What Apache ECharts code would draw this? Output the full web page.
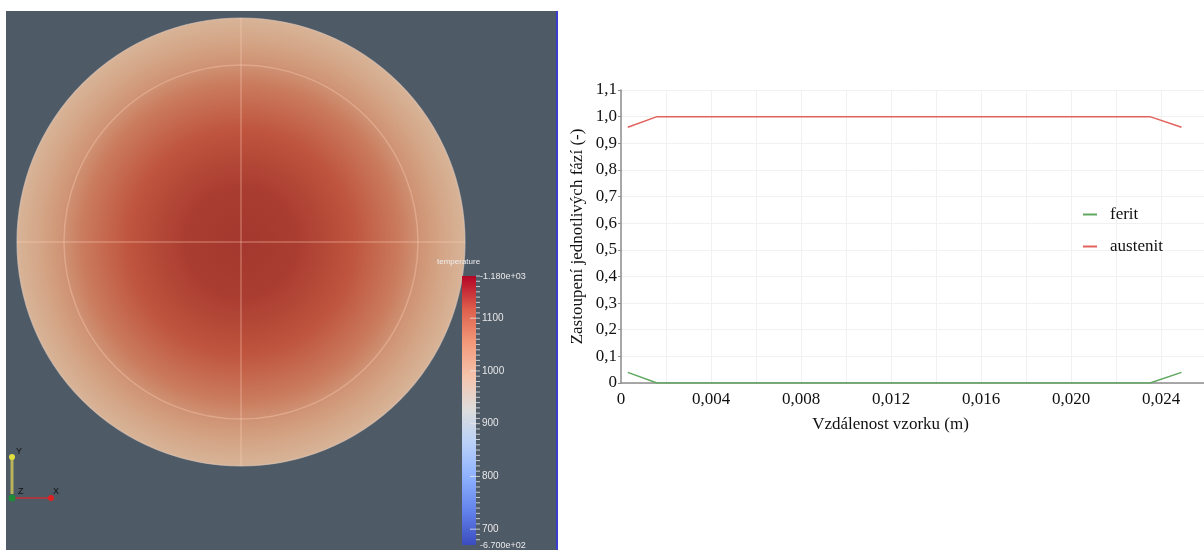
<!DOCTYPE html>
<html>
<head>
<meta charset="utf-8">
<script src="https://cdn.jsdelivr.net/npm/echarts@6/dist/echarts.min.js"></script>
<style>html,body{margin:0;padding:0;background:#fff}#c{width:1204px;height:550px}</style>
</head>
<body>
<div id="c"></div>
<script>
// ---- data ----
const distance = [0.0003, 0.0016, 0.0235, 0.0249];
const austenit = [0.96, 1.0, 1.0, 0.96];
const ferit = [0.04, 0.0, 0.0, 0.04];
const seriesNames = ['ferit', 'austenit'];
const yTicks = [0, 0.1, 0.2, 0.3, 0.4, 0.5, 0.6, 0.7, 0.8, 0.9, 1.0, 1.1];
const xLabelTicks = [0, 0.004, 0.008, 0.012, 0.016, 0.020, 0.024];
const tempMin = 670, tempMax = 1180;
const tempTicks = [1100, 1000, 900, 800, 700];
const tempTitle = 'temperature';
const tempMinLabel = '6.700e+02', tempMaxLabel = '1.180e+03';

// ---- left panel (ParaView-like render) ----
const bar = {x: 462, y: 276, w: 14, h: 269};
function tY(v) { return bar.y + (tempMax - v) / (tempMax - tempMin) * bar.h; }
const g = [];
g.push({type: 'rect', shape: {x: 6, y: 11, width: 550, height: 539}, style: {fill: '#4f5a67'}, z: 1});
g.push({type: 'rect', shape: {x: 556, y: 11, width: 2, height: 539}, style: {fill: '#3c3ccf'}, z: 1});
g.push({type: 'circle', shape: {cx: 241, cy: 242, r: 224}, z: 2,
  style: {fill: {type: 'radial', x: 0.5, y: 0.5, r: 0.5, colorStops: [
    {offset: 0, color: '#a5382e'}, {offset: 0.25, color: '#aa3d31'}, {offset: 0.5, color: '#bf553e'},
    {offset: 0.7, color: '#ca7a5d'}, {offset: 0.8, color: '#cf9475'}, {offset: 0.9, color: '#d4a687'},
    {offset: 1, color: '#d8b498'}]}, stroke: 'rgba(225,205,190,0.6)', lineWidth: 1.2}});
g.push({type: 'circle', shape: {cx: 241, cy: 242, r: 177}, z: 3, style: {fill: null, stroke: 'rgba(255,210,190,0.35)', lineWidth: 1.5}});
g.push({type: 'line', shape: {x1: 17, y1: 242, x2: 465, y2: 242}, z: 3, style: {stroke: 'rgba(255,205,185,0.35)', lineWidth: 1.5}});
g.push({type: 'line', shape: {x1: 241, y1: 18, x2: 241, y2: 466}, z: 3, style: {stroke: 'rgba(255,205,185,0.35)', lineWidth: 1.5}});
// colour bar (cool to warm)
const cw = ['#3b4cc0', '#6282ea', '#8db0fe', '#b8d0f9', '#dddddd', '#f5c4ad', '#f49a7b', '#de604d', '#b40426'];
const mid = (925 - tempMin) / (tempMax - tempMin);
const stops = cw.map((c, i) => {
  const t = i / 8; const v = t <= 0.5 ? t / 0.5 * mid : mid + (t - 0.5) / 0.5 * (1 - mid);
  return {offset: 1 - v, color: c};
}).reverse();
g.push({type: 'rect', shape: {x: bar.x, y: bar.y, width: bar.w, height: bar.h}, z: 4,
  style: {fill: {type: 'linear', x: 0, y: 0, x2: 0, y2: 1, colorStops: stops}}});
for (let v = 680; v <= tempMax; v += 10) {
  const major = v % 100 === 0;
  g.push({type: 'line', shape: {x1: bar.x + bar.w - (major ? 6 : 0), y1: tY(v), x2: bar.x + bar.w + 4, y2: tY(v)}, z: 5,
    style: {stroke: 'rgba(230,230,230,0.8)', lineWidth: 1}});
}
tempTicks.forEach(v => g.push({type: 'text', x: bar.x + bar.w + 6, y: tY(v), z: 5,
  style: {text: String(v), fill: '#e8e8e8', font: '10px "Liberation Sans"', verticalAlign: 'middle'}}));
g.push({type: 'text', x: bar.x + bar.w + 4, y: bar.y + 1, z: 5, style: {text: '-' + tempMaxLabel, fill: '#e8e8e8', font: '9px "Liberation Sans"', verticalAlign: 'middle'}});
g.push({type: 'text', x: bar.x + bar.w + 4, y: bar.y + bar.h + 1, z: 5, style: {text: '-' + tempMinLabel, fill: '#e8e8e8', font: '9px "Liberation Sans"', verticalAlign: 'middle'}});
g.push({type: 'text', x: 437, y: 262, z: 5, style: {text: tempTitle, fill: '#eeeeee', font: '8px "Liberation Sans"', verticalAlign: 'middle'}});
// axes triad
g.push({type: 'line', shape: {x1: 12, y1: 494, x2: 12, y2: 458}, z: 5, style: {stroke: '#b9b45a', lineWidth: 3}});
g.push({type: 'circle', shape: {cx: 12, cy: 457, r: 3}, z: 5, style: {fill: '#e0e040'}});
g.push({type: 'line', shape: {x1: 12, y1: 498, x2: 50, y2: 498}, z: 5, style: {stroke: '#c03030', lineWidth: 1.5}});
g.push({type: 'circle', shape: {cx: 51, cy: 498, r: 3}, z: 5, style: {fill: '#e02020'}});
g.push({type: 'circle', shape: {cx: 12, cy: 498, r: 3.5}, z: 6, style: {fill: '#1e8a3a'}});
g.push({type: 'text', x: 16, y: 447, z: 6, style: {text: 'Y', fill: '#111', font: '9px "Liberation Sans"'}});
g.push({type: 'text', x: 18, y: 487, z: 6, style: {text: 'Z', fill: '#111', font: '9px "Liberation Sans"'}});
g.push({type: 'text', x: 53, y: 487, z: 6, style: {text: 'X', fill: '#111', font: '9px "Liberation Sans"'}});

const serif = '"Liberation Serif", "DejaVu Serif", serif';
const fmtComma = (v, d) => v.toFixed(d).replace('.', ',');

const chart = echarts.init(document.getElementById('c'), null, {renderer: 'canvas'});
chart.setOption({
  animation: false,
  backgroundColor: '#ffffff',
  graphic: {elements: g},
  grid: {left: 621, top: 90, right: 0, bottom: 167, containLabel: false},
  legend: {
    data: seriesNames, orient: 'vertical', left: 1078, top: 201, itemGap: 15,
    icon: 'rect', itemWidth: 14, itemHeight: 2,
    textStyle: {fontFamily: serif, fontSize: 17, color: '#111', padding: [0, 0, 0, 8]}
  },
  xAxis: {
    type: 'value', min: 0, max: 0.0259, interval: 0.002,
    name: 'Vzdálenost vzorku (m)', nameLocation: 'middle', nameGap: 33,
    nameTextStyle: {fontFamily: serif, fontSize: 17, color: '#111', padding: [0, 44, 0, 0]},
    axisLine: {lineStyle: {color: '#8c8c8c', width: 1.5}},
    axisTick: {show: false},
    splitLine: {show: true, lineStyle: {color: '#f1f1f1'}},
    axisLabel: {
      fontFamily: serif, fontSize: 17, color: '#111', margin: 8, showMaxLabel: false,
      formatter: v => {
        const hit = xLabelTicks.find(t => Math.abs(t - v) < 1e-7);
        if (hit === undefined) return '';
        return hit === 0 ? '0' : fmtComma(hit, 3);
      }
    }
  },
  yAxis: {
    type: 'value', min: 0, max: 1.1, interval: 0.1,
    name: 'Zastoupení jednotlivých fází (-)', nameLocation: 'middle', nameGap: 35,
    nameTextStyle: {fontFamily: serif, fontSize: 17, color: '#111'},
    axisLine: {show: true, lineStyle: {color: '#8c8c8c', width: 1.5}},
    axisTick: {show: true, length: 3, lineStyle: {color: '#8c8c8c'}},
    splitLine: {show: true, lineStyle: {color: '#f1f1f1'}},
    axisLabel: {
      fontFamily: serif, fontSize: 17, color: '#111', margin: 4,
      formatter: v => {
        const hit = yTicks.find(t => Math.abs(t - v) < 1e-7);
        if (hit === undefined) return '';
        return hit === 0 ? '0' : fmtComma(hit, 1);
      }
    }
  },
  series: [
    {name: seriesNames[0], type: 'line', data: distance.map((x, i) => [x, ferit[i]]), showSymbol: false,
      lineStyle: {color: '#5fa85f', width: 1.5}, itemStyle: {color: '#5fa85f'}, z: 3},
    {name: seriesNames[1], type: 'line', data: distance.map((x, i) => [x, austenit[i]]), showSymbol: false,
      lineStyle: {color: '#e2625c', width: 1.5}, itemStyle: {color: '#e2625c'}, z: 3}
  ]
});
</script>
</body>
</html>
